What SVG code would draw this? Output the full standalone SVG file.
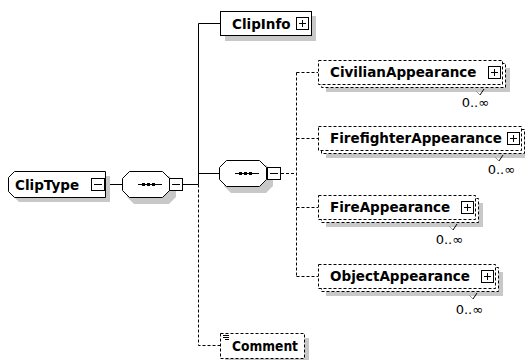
<svg xmlns="http://www.w3.org/2000/svg" width="525" height="360" viewBox="0 0 525 360">
<style>
.ln{stroke:#000;stroke-width:1;fill:none}
.dl{stroke:#000;stroke-width:1;fill:none;stroke-dasharray:3,2}
.box{stroke:#000;stroke-width:1;fill:#fff}
.dbox{stroke:#000;stroke-width:1;fill:#fff;stroke-dasharray:3,2}
.sh{fill:#c8c8c8;stroke:none}
.lbl{font-family:"DejaVu Sans",Verdana,sans-serif;font-weight:bold;font-size:13.5px;fill:#000}
.occ{font-family:"DejaVu Sans",Verdana,sans-serif;font-size:13px;fill:#000}
.ic{stroke:#000;stroke-width:1;fill:#fff}
</style>
<defs>
<g id="plus"><rect class="ic" x="0.5" y="0.5" width="12" height="12"/><path class="ln" d="M3 6.5H10M6.5 3V10"/></g>
<g id="minus"><rect class="ic" x="0.5" y="0.5" width="13" height="12"/><path class="ln" d="M3 6.5H11"/></g>
<g id="seq">
<path class="sh" d="M12 5H47L54 12V26L47 33H12L5 26V12Z"/>
<path class="box" d="M7.5 0.5H40.5L47.5 7.5V19.5L40.5 26.5H7.5L0.5 19.5V7.5Z"/>
<path class="ln" d="M16 13.5H40"/>
<rect x="20" y="12" width="3" height="3" fill="#000"/>
<rect x="25" y="12" width="3" height="3" fill="#000"/>
<rect x="30" y="12" width="3" height="3" fill="#000"/>
</g>
</defs>

<g id="connectors">
<path class="ln" d="M105 184.5H122M183 184.5H198.5M198.5 23.5V184.5M198.5 23.5H220M198.5 173.5H219"/>
<path class="dl" d="M198.5 184.5V345.5H220"/>
<path class="dl" d="M281 173.5H296.5M296.5 72.5V276.5M296.5 72.5H318M296.5 138.5H318M296.5 207.5H318M296.5 276.5H318"/>
</g>

<g id="ClipType">
<path class="sh" d="M19 176H110V202H19L12 195V183Z"/>
<path class="box" d="M14.5 171.5H105.5V197.5H14.5L8.5 191.5V177.5Z"/>
<text class="lbl" x="15" y="190">ClipType</text>
<use href="#minus" x="91" y="178"/>
</g>

<g id="seq1">
<use href="#seq" x="122" y="171"/>
<use href="#minus" x="169" y="178"/>
</g>

<g id="seq2">
<use href="#seq" x="219" y="160"/>
<use href="#minus" x="267" y="167"/>
</g>

<g id="ClipInfo">
<rect class="sh" x="225" y="16" width="91" height="25"/>
<rect class="box" x="220.5" y="11.5" width="91" height="24"/>
<text class="lbl" x="232" y="28.5">ClipInfo</text>
<use href="#plus" x="296" y="17"/>
</g>

<g id="CivilianAppearance">
<rect class="sh" x="326" y="68" width="184" height="24"/>
<rect class="dbox" x="321.5" y="63.5" width="184" height="24"/>
<rect class="dbox" x="318.5" y="60.5" width="184" height="24"/>
<text class="lbl" x="330" y="77">CivilianAppearance</text>
<use href="#plus" x="488" y="66"/>
<path d="M476 91L480 95" stroke="#999" fill="none"/><path class="ln" d="M480 95L484 89"/>
<text class="occ" x="489" y="107" text-anchor="end">0..∞</text>
</g>

<g id="FirefighterAppearance">
<rect class="sh" x="326" y="134" width="204" height="24"/>
<rect class="dbox" x="321.5" y="129.5" width="203" height="24"/>
<rect class="dbox" x="318.5" y="126.5" width="203" height="24"/>
<text class="lbl" x="330" y="143">FirefighterAppearance</text>
<use href="#plus" x="507" y="132"/>
<path d="M495 157L499 161" stroke="#999" fill="none"/><path class="ln" d="M499 161L503 155"/>
<text class="occ" x="515" y="174" text-anchor="end">0..∞</text>
</g>

<g id="FireAppearance">
<rect class="sh" x="326" y="203" width="157" height="24"/>
<rect class="dbox" x="321.5" y="198.5" width="157" height="24"/>
<rect class="dbox" x="318.5" y="195.5" width="157" height="24"/>
<text class="lbl" x="330" y="212">FireAppearance</text>
<use href="#plus" x="461" y="201"/>
<path d="M449 226L453 230" stroke="#999" fill="none"/><path class="ln" d="M453 230L457 224"/>
<text class="occ" x="463" y="244" text-anchor="end">0..∞</text>
</g>

<g id="ObjectAppearance">
<rect class="sh" x="326" y="272" width="177" height="24"/>
<rect class="dbox" x="321.5" y="267.5" width="177" height="24"/>
<rect class="dbox" x="318.5" y="264.5" width="177" height="24"/>
<text class="lbl" x="330" y="281">ObjectAppearance</text>
<use href="#plus" x="481" y="270"/>
<path d="M469 295L473 299" stroke="#999" fill="none"/><path class="ln" d="M473 299L477 293"/>
<text class="occ" x="483" y="314" text-anchor="end">0..∞</text>
</g>

<g id="Comment">
<rect class="sh" x="225" y="338" width="84" height="25"/>
<rect class="dbox" x="220.5" y="333.5" width="84" height="25"/>
<path class="ln" d="M223 335.5H229M223 337.5H229M225 339.5H229"/>
<text class="lbl" x="232" y="351" textLength="66" lengthAdjust="spacingAndGlyphs">Comment</text>
</g>
</svg>
